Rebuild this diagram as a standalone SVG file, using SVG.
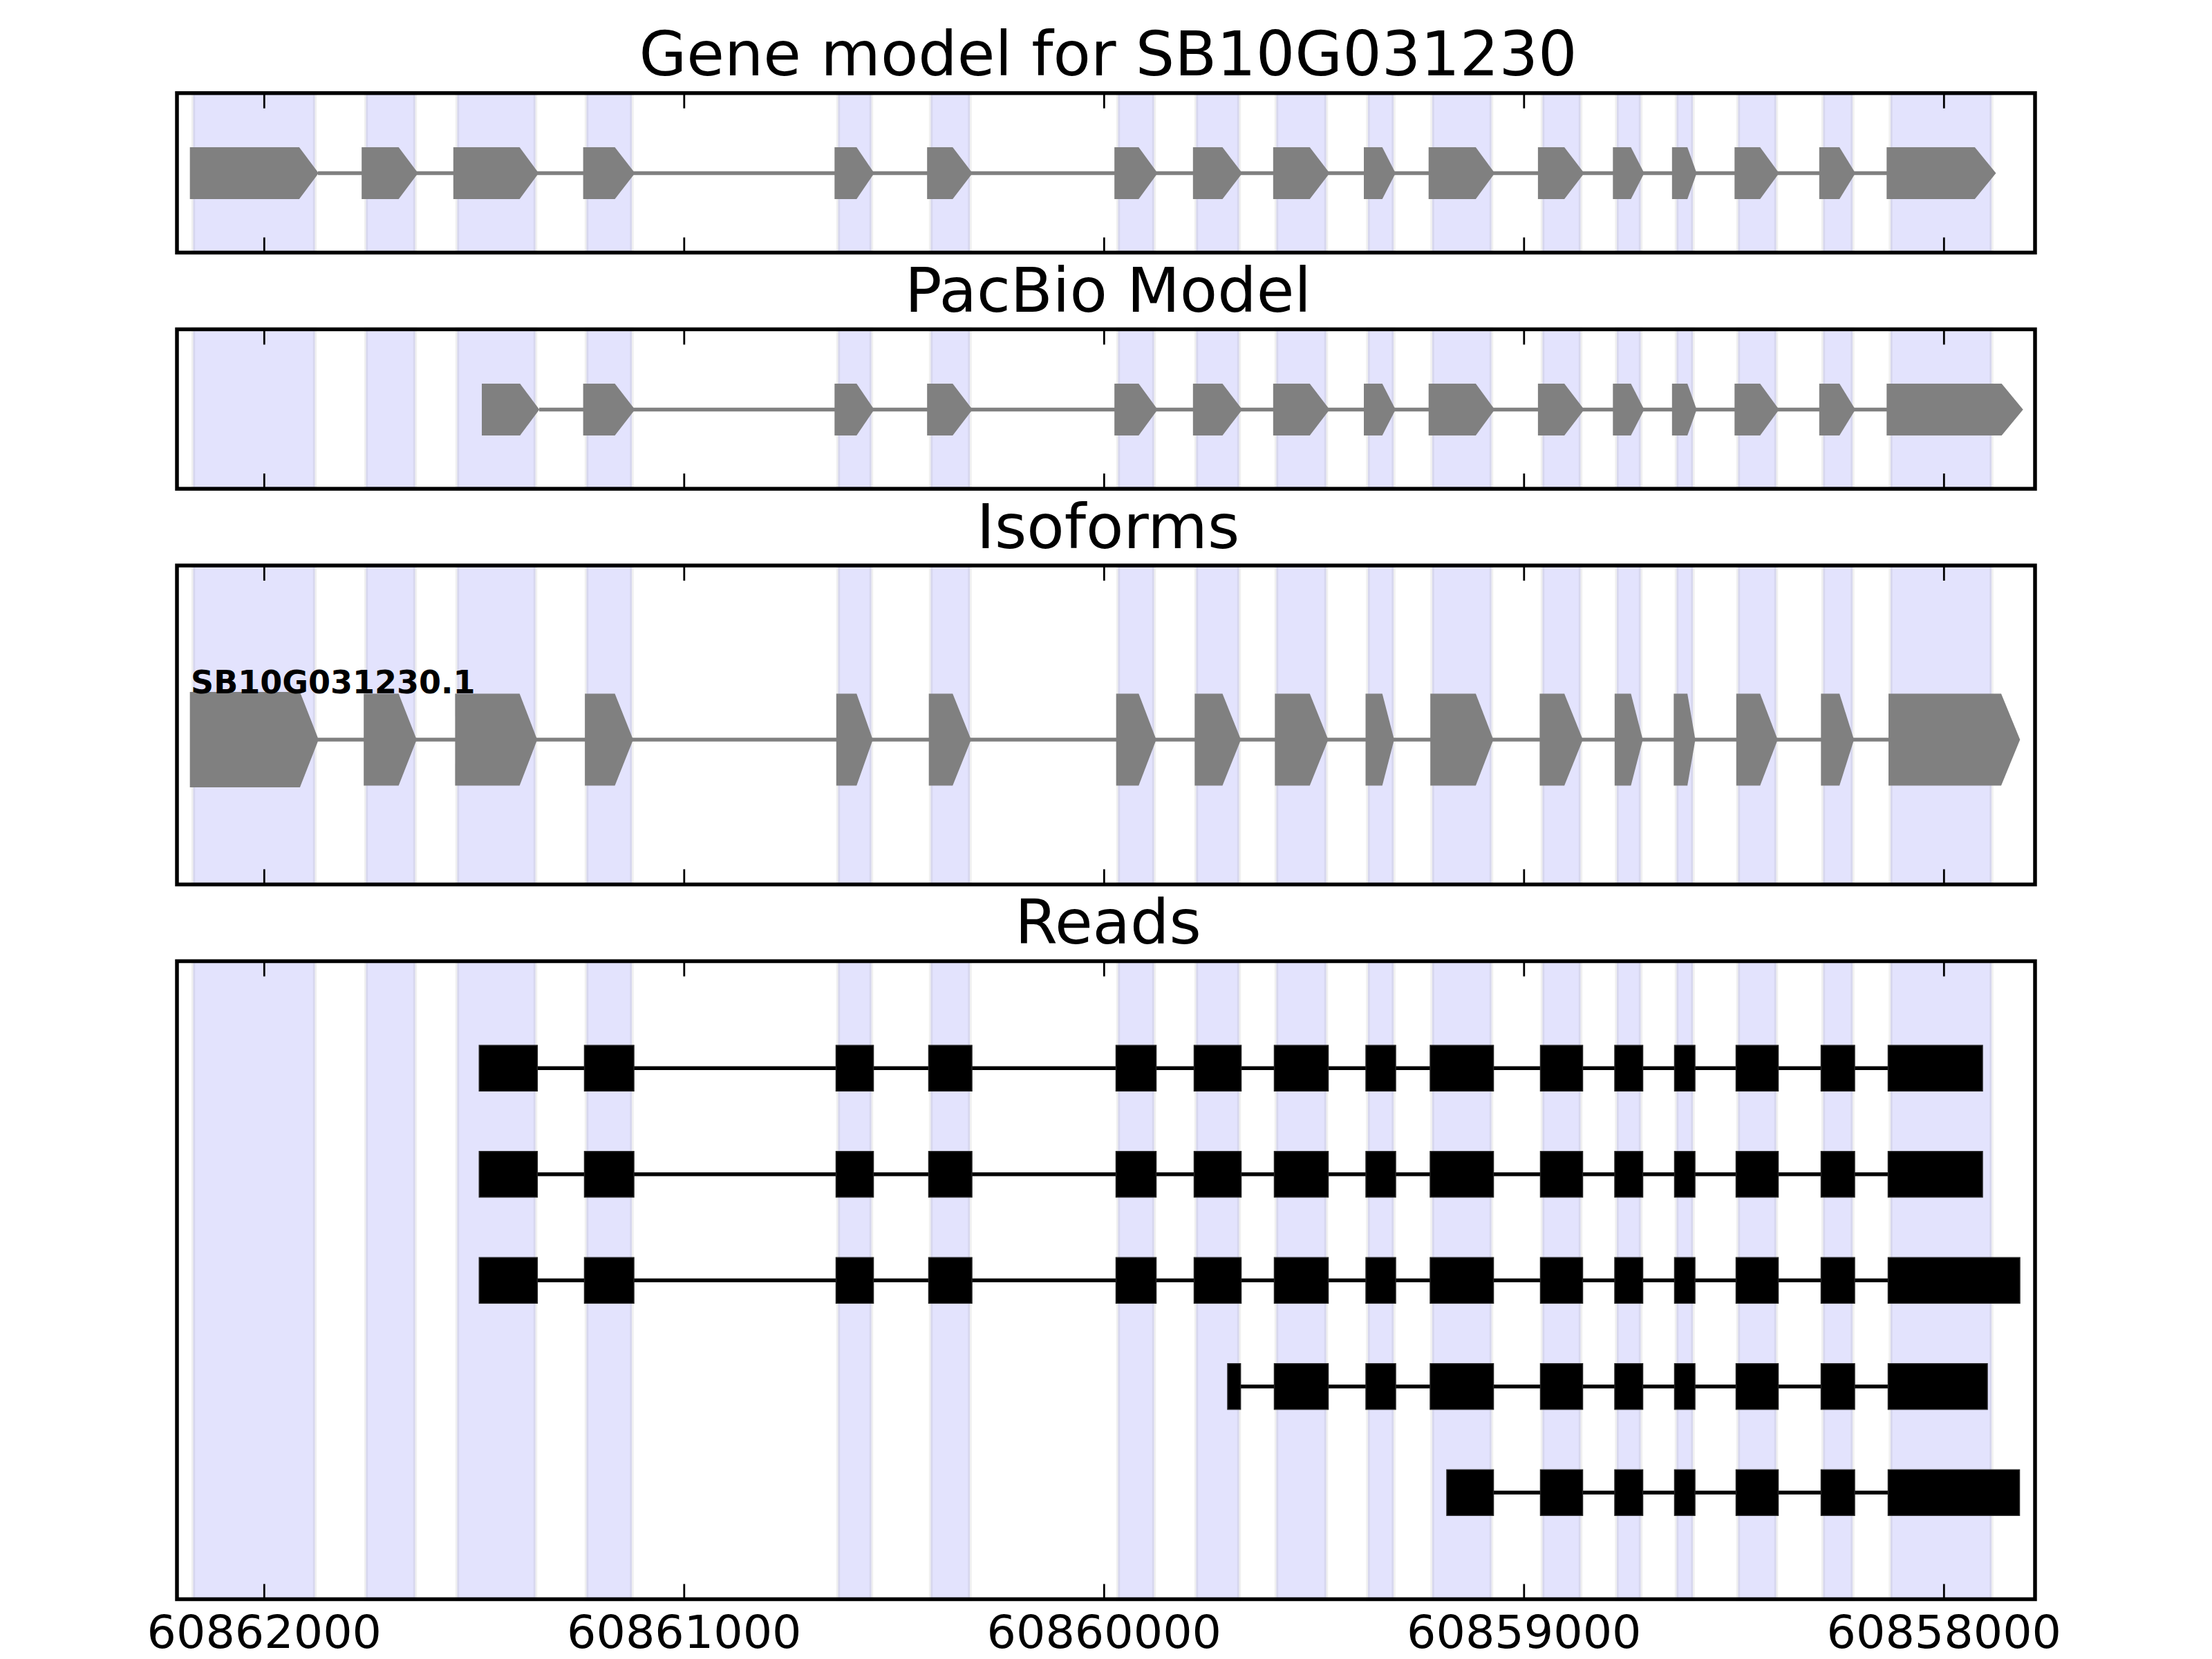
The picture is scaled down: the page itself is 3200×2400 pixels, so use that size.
<svg xmlns="http://www.w3.org/2000/svg" width="3200" height="2400" viewBox="0 0 3200 2400">
<defs>
<style>
.bg{fill:#ffffff}
.band{fill:#e3e3fd;stroke:#808080;stroke-opacity:0.12;stroke-width:5.5}
.exon{fill:#808080;stroke:none}
.intron{stroke:#808080;stroke-width:5.5;fill:none}
.rline{stroke:#000000;stroke-width:5.5;fill:none}
.blk{fill:#000000;stroke:#222222;stroke-width:1.5}
.frame{fill:none;stroke:#000000;stroke-width:5.5}
.tick{stroke:#000000;stroke-width:2.8}
.title{font-family:"DejaVu Sans","Liberation Sans",sans-serif;font-size:88.9px;text-anchor:middle;fill:#000}
.tlab{font-family:"DejaVu Sans","Liberation Sans",sans-serif;font-size:66.7px;text-anchor:middle;fill:#000}
.lab{font-family:"DejaVu Sans","Liberation Sans",sans-serif;font-size:46px;font-weight:bold;fill:#000}
</style>
</defs>
<rect class="bg" x="0" y="0" width="3200" height="2400"/>

<!-- shaded exon bands -->
<g id="bands">
<g id="bands-p1">
<rect class="band" x="279.5" y="134.7" width="176" height="230.7"/>
<rect class="band" x="529.5" y="134.7" width="71" height="230.7"/>
<rect class="band" x="661.5" y="134.7" width="113" height="230.7"/>
<rect class="band" x="848.5" y="134.7" width="65.5" height="230.7"/>
<rect class="band" x="1212.5" y="134.7" width="48" height="230.7"/>
<rect class="band" x="1346.5" y="134.7" width="56.5" height="230.7"/>
<rect class="band" x="1617.5" y="134.7" width="52" height="230.7"/>
<rect class="band" x="1730.5" y="134.7" width="62" height="230.7"/>
<rect class="band" x="1846.5" y="134.7" width="72" height="230.7"/>
<rect class="band" x="1979" y="134.7" width="37" height="230.7"/>
<rect class="band" x="2072" y="134.7" width="85.5" height="230.7"/>
<rect class="band" x="2231.5" y="134.7" width="55" height="230.7"/>
<rect class="band" x="2339" y="134.7" width="34.5" height="230.7"/>
<rect class="band" x="2425.5" y="134.7" width="23.5" height="230.7"/>
<rect class="band" x="2514.5" y="134.7" width="55" height="230.7"/>
<rect class="band" x="2637.5" y="134.7" width="42.5" height="230.7"/>
<rect class="band" x="2735" y="134.7" width="146" height="230.7"/>
</g>
<g id="bands-p2">
<rect class="band" x="279.5" y="476.4" width="176" height="230.7"/>
<rect class="band" x="529.5" y="476.4" width="71" height="230.7"/>
<rect class="band" x="661.5" y="476.4" width="113" height="230.7"/>
<rect class="band" x="848.5" y="476.4" width="65.5" height="230.7"/>
<rect class="band" x="1212.5" y="476.4" width="48" height="230.7"/>
<rect class="band" x="1346.5" y="476.4" width="56.5" height="230.7"/>
<rect class="band" x="1617.5" y="476.4" width="52" height="230.7"/>
<rect class="band" x="1730.5" y="476.4" width="62" height="230.7"/>
<rect class="band" x="1846.5" y="476.4" width="72" height="230.7"/>
<rect class="band" x="1979" y="476.4" width="37" height="230.7"/>
<rect class="band" x="2072" y="476.4" width="85.5" height="230.7"/>
<rect class="band" x="2231.5" y="476.4" width="55" height="230.7"/>
<rect class="band" x="2339" y="476.4" width="34.5" height="230.7"/>
<rect class="band" x="2425.5" y="476.4" width="23.5" height="230.7"/>
<rect class="band" x="2514.5" y="476.4" width="55" height="230.7"/>
<rect class="band" x="2637.5" y="476.4" width="42.5" height="230.7"/>
<rect class="band" x="2735" y="476.4" width="146" height="230.7"/>
</g>
<g id="bands-p3">
<rect class="band" x="279.5" y="818.1" width="176" height="461.4"/>
<rect class="band" x="529.5" y="818.1" width="71" height="461.4"/>
<rect class="band" x="661.5" y="818.1" width="113" height="461.4"/>
<rect class="band" x="848.5" y="818.1" width="65.5" height="461.4"/>
<rect class="band" x="1212.5" y="818.1" width="48" height="461.4"/>
<rect class="band" x="1346.5" y="818.1" width="56.5" height="461.4"/>
<rect class="band" x="1617.5" y="818.1" width="52" height="461.4"/>
<rect class="band" x="1730.5" y="818.1" width="62" height="461.4"/>
<rect class="band" x="1846.5" y="818.1" width="72" height="461.4"/>
<rect class="band" x="1979" y="818.1" width="37" height="461.4"/>
<rect class="band" x="2072" y="818.1" width="85.5" height="461.4"/>
<rect class="band" x="2231.5" y="818.1" width="55" height="461.4"/>
<rect class="band" x="2339" y="818.1" width="34.5" height="461.4"/>
<rect class="band" x="2425.5" y="818.1" width="23.5" height="461.4"/>
<rect class="band" x="2514.5" y="818.1" width="55" height="461.4"/>
<rect class="band" x="2637.5" y="818.1" width="42.5" height="461.4"/>
<rect class="band" x="2735" y="818.1" width="146" height="461.4"/>
</g>
<g id="bands-p4">
<rect class="band" x="279.5" y="1390.5" width="176" height="923"/>
<rect class="band" x="529.5" y="1390.5" width="71" height="923"/>
<rect class="band" x="661.5" y="1390.5" width="113" height="923"/>
<rect class="band" x="848.5" y="1390.5" width="65.5" height="923"/>
<rect class="band" x="1212.5" y="1390.5" width="48" height="923"/>
<rect class="band" x="1346.5" y="1390.5" width="56.5" height="923"/>
<rect class="band" x="1617.5" y="1390.5" width="52" height="923"/>
<rect class="band" x="1730.5" y="1390.5" width="62" height="923"/>
<rect class="band" x="1846.5" y="1390.5" width="72" height="923"/>
<rect class="band" x="1979" y="1390.5" width="37" height="923"/>
<rect class="band" x="2072" y="1390.5" width="85.5" height="923"/>
<rect class="band" x="2231.5" y="1390.5" width="55" height="923"/>
<rect class="band" x="2339" y="1390.5" width="34.5" height="923"/>
<rect class="band" x="2425.5" y="1390.5" width="23.5" height="923"/>
<rect class="band" x="2514.5" y="1390.5" width="55" height="923"/>
<rect class="band" x="2637.5" y="1390.5" width="42.5" height="923"/>
<rect class="band" x="2735" y="1390.5" width="146" height="923"/>
</g>
</g>

<!-- connectors: introns -->
<g id="connectors">
<line class="intron" x1="460" y1="250.5" x2="2730" y2="250.5"/>
<line class="intron" x1="780" y1="592.5" x2="2730" y2="592.5"/>
<line class="intron" x1="460" y1="1070" x2="2733" y2="1070"/>
<line class="rline" x1="693.3" y1="1545.3" x2="2868" y2="1545.3"/>
<line class="rline" x1="693.3" y1="1698.8" x2="2868" y2="1698.8"/>
<line class="rline" x1="693.3" y1="1852.3" x2="2922" y2="1852.3"/>
<line class="rline" x1="1776" y1="2005.8" x2="2875" y2="2005.8"/>
<line class="rline" x1="2093" y1="2159.3" x2="2921.5" y2="2159.3"/>
</g>

<!-- Gene model -->
<g id="gene-model">
<polygon class="exon" points="274.7,213 432.9,213 460.9,250.5 432.9,288 274.7,288"/>
<polygon class="exon" points="523.2,213 576.7,213 604.8,250.5 576.7,288 523.2,288"/>
<polygon class="exon" points="655.8,213 751.7,213 779.3,250.5 751.7,288 655.8,288"/>
<polygon class="exon" points="843.6,213 889.5,213 918.6,250.5 889.5,288 843.6,288"/>
<polygon class="exon" points="1207.3,213 1239.2,213 1264.7,250.5 1239.2,288 1207.3,288"/>
<polygon class="exon" points="1341.2,213 1378.2,213 1406.9,250.5 1378.2,288 1341.2,288"/>
<polygon class="exon" points="1612.2,213 1647.3,213 1674.7,250.5 1647.3,288 1612.2,288"/>
<polygon class="exon" points="1725.8,213 1768.5,213 1797.2,250.5 1768.5,288 1725.8,288"/>
<polygon class="exon" points="1841.8,213 1894.8,213 1923.5,250.5 1894.8,288 1841.8,288"/>
<polygon class="exon" points="1973,213 1999.7,213 2018.9,250.5 1999.7,288 1973,288"/>
<polygon class="exon" points="2066.7,213 2134.9,213 2162.4,250.5 2134.9,288 2066.7,288"/>
<polygon class="exon" points="2224.9,213 2263.1,213 2291.8,250.5 2263.1,288 2224.9,288"/>
<polygon class="exon" points="2333.3,213 2359.4,213 2378.6,250.5 2359.4,288 2333.3,288"/>
<polygon class="exon" points="2418.8,213 2441.1,213 2454.5,250.5 2441.1,288 2418.8,288"/>
<polygon class="exon" points="2509.3,213 2546.3,213 2573.7,250.5 2546.3,288 2509.3,288"/>
<polygon class="exon" points="2631.8,213 2661.1,213 2684.1,250.5 2661.1,288 2631.8,288"/>
<polygon class="exon" points="2729.3,213 2856.9,213 2887.5,250.5 2856.9,288 2729.3,288"/>
</g>

<!-- PacBio model -->
<g id="pacbio-model">
<polygon class="exon" points="697,555 752.3,555 780.3,592.5 752.3,630 697,630"/>
<polygon class="exon" points="843.6,555 889.5,555 918.6,592.5 889.5,630 843.6,630"/>
<polygon class="exon" points="1207.3,555 1239.2,555 1264.7,592.5 1239.2,630 1207.3,630"/>
<polygon class="exon" points="1341.2,555 1378.2,555 1406.9,592.5 1378.2,630 1341.2,630"/>
<polygon class="exon" points="1612.2,555 1647.3,555 1674.7,592.5 1647.3,630 1612.2,630"/>
<polygon class="exon" points="1725.8,555 1768.5,555 1797.2,592.5 1768.5,630 1725.8,630"/>
<polygon class="exon" points="1841.8,555 1894.8,555 1923.5,592.5 1894.8,630 1841.8,630"/>
<polygon class="exon" points="1973,555 1999.7,555 2018.9,592.5 1999.7,630 1973,630"/>
<polygon class="exon" points="2066.7,555 2134.9,555 2162.4,592.5 2134.9,630 2066.7,630"/>
<polygon class="exon" points="2224.9,555 2263.1,555 2291.8,592.5 2263.1,630 2224.9,630"/>
<polygon class="exon" points="2333.3,555 2359.4,555 2378.6,592.5 2359.4,630 2333.3,630"/>
<polygon class="exon" points="2418.8,555 2441.1,555 2454.5,592.5 2441.1,630 2418.8,630"/>
<polygon class="exon" points="2509.3,555 2546.3,555 2573.7,592.5 2546.3,630 2509.3,630"/>
<polygon class="exon" points="2631.8,555 2661.1,555 2684.1,592.5 2661.1,630 2631.8,630"/>
<polygon class="exon" points="2729.3,555 2895.7,555 2926.7,592.5 2895.7,630 2729.3,630"/>
</g>

<!-- Isoform -->
<g id="isoform-SB10G031230.1">
<polygon class="exon" points="274.7,1001 433.9,1001 460.9,1070 433.9,1139 274.7,1139"/>
<polygon class="exon" points="526.2,1003.5 576.7,1003.5 602.8,1070 576.7,1136.5 526.2,1136.5"/>
<polygon class="exon" points="658.4,1003.5 751.7,1003.5 777.2,1070 751.7,1136.5 658.4,1136.5"/>
<polygon class="exon" points="846.1,1003.5 889.5,1003.5 916,1070 889.5,1136.5 846.1,1136.5"/>
<polygon class="exon" points="1209.8,1003.5 1239.2,1003.5 1262.7,1070 1239.2,1136.5 1209.8,1136.5"/>
<polygon class="exon" points="1343.7,1003.5 1378.2,1003.5 1404.9,1070 1378.2,1136.5 1343.7,1136.5"/>
<polygon class="exon" points="1614.7,1003.5 1647.3,1003.5 1672.7,1070 1647.3,1136.5 1614.7,1136.5"/>
<polygon class="exon" points="1728.3,1003.5 1768.5,1003.5 1795.2,1070 1768.5,1136.5 1728.3,1136.5"/>
<polygon class="exon" points="1844.3,1003.5 1894.8,1003.5 1921.5,1070 1894.8,1136.5 1844.3,1136.5"/>
<polygon class="exon" points="1975.5,1003.5 1999.7,1003.5 2016.9,1070 1999.7,1136.5 1975.5,1136.5"/>
<polygon class="exon" points="2069.2,1003.5 2134.9,1003.5 2160.4,1070 2134.9,1136.5 2069.2,1136.5"/>
<polygon class="exon" points="2227.4,1003.5 2263.1,1003.5 2289.8,1070 2263.1,1136.5 2227.4,1136.5"/>
<polygon class="exon" points="2335.8,1003.5 2359.4,1003.5 2376.6,1070 2359.4,1136.5 2335.8,1136.5"/>
<polygon class="exon" points="2421.3,1003.5 2441.1,1003.5 2452.5,1070 2441.1,1136.5 2421.3,1136.5"/>
<polygon class="exon" points="2511.8,1003.5 2546.3,1003.5 2571.7,1070 2546.3,1136.5 2511.8,1136.5"/>
<polygon class="exon" points="2634.3,1003.5 2661.1,1003.5 2682.1,1070 2661.1,1136.5 2634.3,1136.5"/>
<polygon class="exon" points="2732,1003.5 2895,1003.5 2922.3,1070 2895,1136.5 2732,1136.5"/>
<text class="lab" x="276" y="1002.7">SB10G031230.1</text>
</g>

<!-- Reads -->
<g id="read-1">
<rect class="blk" x="693.3" y="1512.3" width="84" height="66"/>
<rect class="blk" x="845.5" y="1512.3" width="71.5" height="66"/>
<rect class="blk" x="1209.5" y="1512.3" width="54" height="66"/>
<rect class="blk" x="1343.5" y="1512.3" width="62.5" height="66"/>
<rect class="blk" x="1614.5" y="1512.3" width="58" height="66"/>
<rect class="blk" x="1727.5" y="1512.3" width="68" height="66"/>
<rect class="blk" x="1843.5" y="1512.3" width="78" height="66"/>
<rect class="blk" x="1976" y="1512.3" width="43" height="66"/>
<rect class="blk" x="2069" y="1512.3" width="91.5" height="66"/>
<rect class="blk" x="2228.5" y="1512.3" width="61" height="66"/>
<rect class="blk" x="2336" y="1512.3" width="40.5" height="66"/>
<rect class="blk" x="2422.5" y="1512.3" width="29.5" height="66"/>
<rect class="blk" x="2511.5" y="1512.3" width="61" height="66"/>
<rect class="blk" x="2634.5" y="1512.3" width="48.5" height="66"/>
<rect class="blk" x="2731.5" y="1512.3" width="136.5" height="66"/>
</g>
<g id="read-2">
<rect class="blk" x="693.3" y="1665.8" width="84" height="66"/>
<rect class="blk" x="845.5" y="1665.8" width="71.5" height="66"/>
<rect class="blk" x="1209.5" y="1665.8" width="54" height="66"/>
<rect class="blk" x="1343.5" y="1665.8" width="62.5" height="66"/>
<rect class="blk" x="1614.5" y="1665.8" width="58" height="66"/>
<rect class="blk" x="1727.5" y="1665.8" width="68" height="66"/>
<rect class="blk" x="1843.5" y="1665.8" width="78" height="66"/>
<rect class="blk" x="1976" y="1665.8" width="43" height="66"/>
<rect class="blk" x="2069" y="1665.8" width="91.5" height="66"/>
<rect class="blk" x="2228.5" y="1665.8" width="61" height="66"/>
<rect class="blk" x="2336" y="1665.8" width="40.5" height="66"/>
<rect class="blk" x="2422.5" y="1665.8" width="29.5" height="66"/>
<rect class="blk" x="2511.5" y="1665.8" width="61" height="66"/>
<rect class="blk" x="2634.5" y="1665.8" width="48.5" height="66"/>
<rect class="blk" x="2731.5" y="1665.8" width="136.5" height="66"/>
</g>
<g id="read-3">
<rect class="blk" x="693.3" y="1819.3" width="84" height="66"/>
<rect class="blk" x="845.5" y="1819.3" width="71.5" height="66"/>
<rect class="blk" x="1209.5" y="1819.3" width="54" height="66"/>
<rect class="blk" x="1343.5" y="1819.3" width="62.5" height="66"/>
<rect class="blk" x="1614.5" y="1819.3" width="58" height="66"/>
<rect class="blk" x="1727.5" y="1819.3" width="68" height="66"/>
<rect class="blk" x="1843.5" y="1819.3" width="78" height="66"/>
<rect class="blk" x="1976" y="1819.3" width="43" height="66"/>
<rect class="blk" x="2069" y="1819.3" width="91.5" height="66"/>
<rect class="blk" x="2228.5" y="1819.3" width="61" height="66"/>
<rect class="blk" x="2336" y="1819.3" width="40.5" height="66"/>
<rect class="blk" x="2422.5" y="1819.3" width="29.5" height="66"/>
<rect class="blk" x="2511.5" y="1819.3" width="61" height="66"/>
<rect class="blk" x="2634.5" y="1819.3" width="48.5" height="66"/>
<rect class="blk" x="2731.5" y="1819.3" width="190.5" height="66"/>
</g>
<g id="read-4">
<rect class="blk" x="1776" y="1972.8" width="18.6" height="66"/>
<rect class="blk" x="1843.5" y="1972.8" width="78" height="66"/>
<rect class="blk" x="1976" y="1972.8" width="43" height="66"/>
<rect class="blk" x="2069" y="1972.8" width="91.5" height="66"/>
<rect class="blk" x="2228.5" y="1972.8" width="61" height="66"/>
<rect class="blk" x="2336" y="1972.8" width="40.5" height="66"/>
<rect class="blk" x="2422.5" y="1972.8" width="29.5" height="66"/>
<rect class="blk" x="2511.5" y="1972.8" width="61" height="66"/>
<rect class="blk" x="2634.5" y="1972.8" width="48.5" height="66"/>
<rect class="blk" x="2731.5" y="1972.8" width="143.5" height="66"/>
</g>
<g id="read-5">
<rect class="blk" x="2093" y="2126.3" width="67.5" height="66"/>
<rect class="blk" x="2228.5" y="2126.3" width="61" height="66"/>
<rect class="blk" x="2336" y="2126.3" width="40.5" height="66"/>
<rect class="blk" x="2422.5" y="2126.3" width="29.5" height="66"/>
<rect class="blk" x="2511.5" y="2126.3" width="61" height="66"/>
<rect class="blk" x="2634.5" y="2126.3" width="48.5" height="66"/>
<rect class="blk" x="2731.5" y="2126.3" width="190" height="66"/>
</g>

<!-- Axes frames and ticks -->
<g id="axes">
<rect class="frame" x="256" y="134.7" width="2688" height="230.7"/>
<rect class="frame" x="256" y="476.4" width="2688" height="230.7"/>
<rect class="frame" x="256" y="818.1" width="2688" height="461.4"/>
<rect class="frame" x="256" y="1390.5" width="2688" height="923"/>
<g id="ticks">
<path class="tick" d="M382.3,134.7v22M989.8,134.7v22M1597.3,134.7v22M2204.8,134.7v22M2812.3,134.7v22M382.3,365.4v-22M989.8,365.4v-22M1597.3,365.4v-22M2204.8,365.4v-22M2812.3,365.4v-22"/>
<path class="tick" d="M382.3,476.4v22M989.8,476.4v22M1597.3,476.4v22M2204.8,476.4v22M2812.3,476.4v22M382.3,707.1v-22M989.8,707.1v-22M1597.3,707.1v-22M2204.8,707.1v-22M2812.3,707.1v-22"/>
<path class="tick" d="M382.3,818.1v22M989.8,818.1v22M1597.3,818.1v22M2204.8,818.1v22M2812.3,818.1v22M382.3,1279.5v-22M989.8,1279.5v-22M1597.3,1279.5v-22M2204.8,1279.5v-22M2812.3,1279.5v-22"/>
<path class="tick" d="M382.3,1390.5v22M989.8,1390.5v22M1597.3,1390.5v22M2204.8,1390.5v22M2812.3,1390.5v22M382.3,2313.5v-22M989.8,2313.5v-22M1597.3,2313.5v-22M2204.8,2313.5v-22M2812.3,2313.5v-22"/>
</g>
<g id="tick-labels">
<text class="tlab" x="382.3" y="2384">60862000</text>
<text class="tlab" x="989.8" y="2384">60861000</text>
<text class="tlab" x="1597.3" y="2384">60860000</text>
<text class="tlab" x="2204.8" y="2384">60859000</text>
<text class="tlab" x="2812.3" y="2384">60858000</text>
</g>
</g>

<!-- Titles -->
<g id="titles">
<text class="title" x="1603" y="109.3">Gene model for SB10G031230</text>
<text class="title" x="1603" y="451">PacBio Model</text>
<text class="title" x="1603" y="792.7">Isoforms</text>
<text class="title" x="1603" y="1365.1">Reads</text>
</g>
</svg>
